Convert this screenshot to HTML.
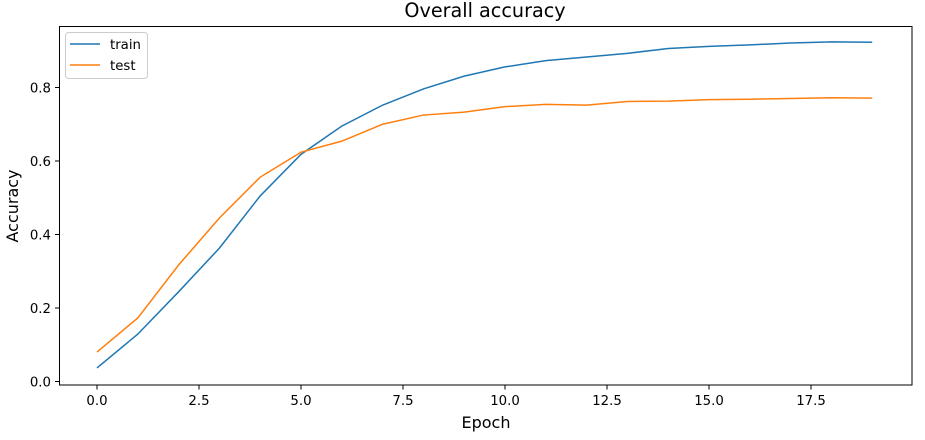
<!DOCTYPE html>
<html><head><meta charset="utf-8"><style>
body{margin:0;background:#fff;}
svg{display:block;font-family:"DejaVu Sans","Liberation Sans",sans-serif;}
</style></head><body>
<svg id="chart" width="925" height="440" xmlns="http://www.w3.org/2000/svg">
<rect width="925" height="440" fill="#fff"/>
<text x="485" y="17" text-anchor="middle" font-size="19.2">Overall accuracy</text>
<text x="486" y="428" text-anchor="middle" font-size="16">Epoch</text>
<text transform="translate(18,206) rotate(-90)" text-anchor="middle" font-size="16">Accuracy</text>
<g id="ticks"></g>
<g id="lines"></g>
<rect x="59.5" y="26.5" width="852.5" height="358.5" fill="none" stroke="#000" stroke-width="1"/>
<g>
<rect x="65.5" y="32.5" width="82" height="46" rx="3" fill="#fff" stroke="#ccc"/>
<line x1="70" y1="44" x2="100" y2="44" stroke="#1f77b4" stroke-width="1.5"/>
<text x="110" y="49" font-size="13.3">train</text>
<line x1="70" y1="65" x2="100" y2="65" stroke="#ff7f0e" stroke-width="1.5"/>
<text x="110" y="70" font-size="13.3">test</text>
</g>
</svg>
<script>
const epochs=[0,1,2,3,4,5,6,7,8,9,10,11,12,13,14,15,16,17,18,19];
const trainAcc=[0.037,0.129,0.244,0.363,0.505,0.618,0.695,0.752,0.796,0.831,0.856,0.873,0.883,0.893,0.906,0.912,0.916,0.921,0.924,0.923];
const testAcc=[0.080,0.173,0.317,0.445,0.556,0.624,0.654,0.700,0.725,0.733,0.748,0.754,0.752,0.762,0.763,0.767,0.768,0.770,0.772,0.771];
const xTicks=[0,2.5,5,7.5,10,12.5,15,17.5];
const yTicks=[0,0.2,0.4,0.6,0.8];
const NS="http://www.w3.org/2000/svg";
function xs(v){return 97+v*40.8;}
function ys(v){return 381.5-v*367.5;}
const tg=document.getElementById('ticks');
xTicks.forEach(t=>{
  const l=document.createElementNS(NS,'line');
  l.setAttribute('x1',xs(t));l.setAttribute('x2',xs(t));l.setAttribute('y1',385);l.setAttribute('y2',389.5);l.setAttribute('stroke','#000');
  
  
  tg.appendChild(l);
  const tx=document.createElementNS(NS,'text');
  tx.setAttribute('x',xs(t));tx.setAttribute('y',405);tx.setAttribute('text-anchor','middle');tx.setAttribute('font-size','13.3');
  tx.textContent=t.toFixed(1);
  
  
  tg.appendChild(tx);
});
yTicks.forEach(t=>{
  const l=document.createElementNS(NS,'line');
  l.setAttribute('x1',55);l.setAttribute('x2',59.5);l.setAttribute('y1',ys(t));l.setAttribute('y2',ys(t));l.setAttribute('stroke','#000');
  
  
  tg.appendChild(l);
  const tx=document.createElementNS(NS,'text');
  tx.setAttribute('x',51);tx.setAttribute('y',ys(t)+5);tx.setAttribute('text-anchor','end');tx.setAttribute('font-size','13.3');
  tx.textContent=t.toFixed(1);
  
  
  tg.appendChild(tx);
});
const lg=document.getElementById('lines');
function drawLine(vals,color,name){
  const p=document.createElementNS(NS,'polyline');
  p.setAttribute('points',vals.map((v,i)=>xs(epochs[i])+','+ys(v)).join(' '));
  p.setAttribute('fill','none');p.setAttribute('stroke',color);p.setAttribute('stroke-width','1.5');
  
  
  lg.appendChild(p);
}
drawLine(trainAcc,'#1f77b4','train-line');
drawLine(testAcc,'#ff7f0e','test-line');
</script>
</body></html>
